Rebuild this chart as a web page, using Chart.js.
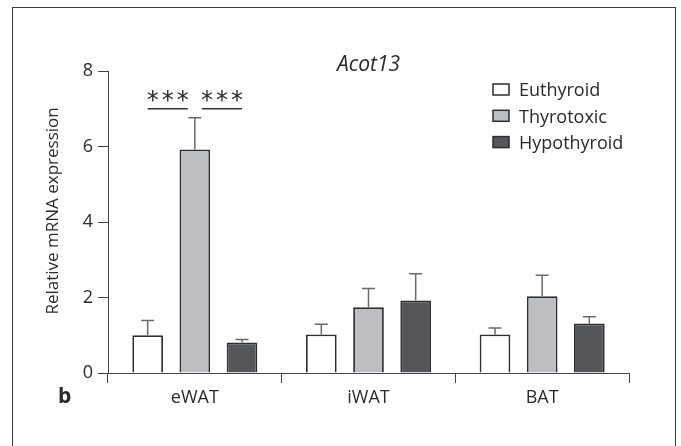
<!DOCTYPE html>
<html>
<head>
<meta charset="utf-8">
<script src="https://cdn.jsdelivr.net/npm/chart.js@4.4.0/dist/chart.umd.min.js"></script>
<style>
  html, body { margin: 0; padding: 0; background: #fff; }
  #wrap { position: relative; width: 681px; height: 446px; overflow: hidden; }
  #frame { position: absolute; left: 12px; top: 7px; width: 664px; height: 470px; border: 1.5px solid #3a3a3a; box-sizing: border-box; }
  canvas { position: absolute; left: 0; top: 0; }
</style>
</head>
<body>
<div id="wrap">
  <div id="frame"></div>
  <canvas id="chart" width="681" height="446"></canvas>
</div>
<script>
/* --------------- Data --------------------- */
const categories = ["eWAT", "iWAT", "BAT"];
const groups = ["Euthyroid", "Thyrotoxic", "Hypothyroid"];
const euthyroid = [1.0, 1.02, 1.02];
const thyrotoxic = [5.92, 1.74, 2.03];
const hypothyroid = [0.81, 1.92, 1.31];
// upper error (SEM), drawn above each bar
const euthyroidErr = [0.39, 0.27, 0.17];
const thyrotoxicErr = [0.84, 0.5, 0.56];
const hypothyroidErr = [0.08, 0.71, 0.18];
const yTicks = [0, 2, 4, 6, 8];
// [category index, from dataset, to dataset, label]
const significance = [
  [0, 0, 1, "***"],
  [0, 1, 2, "***"],
];
const sigLevel = 7;

/* --------------- Styles --------------------- */
const FONT = "'Open Sans', 'Noto Sans', sans-serif";
const fillColors = ["#ffffff", "#bdbec1", "#545659"];
const edgeColor = "#2e2e2e";
const axisColor = "#444444";
const textColor = "#2a2a2a";

/* --------------- Error bars, legend, labels --------------------- */
const extrasPlugin = {
  id: "extras",
  afterDatasetsDraw(chart) {
    const ctx = chart.ctx;
    const yScale = chart.scales.y;
    ctx.save();
    ctx.strokeStyle = "#6a6a6a";
    ctx.lineWidth = 1.5;
    chart.data.datasets.forEach((ds, di) => {
      const meta = chart.getDatasetMeta(di);
      meta.data.forEach((bar, i) => {
        const top = yScale.getPixelForValue(ds.data[i] + ds.errors[i]);
        ctx.beginPath();
        ctx.moveTo(bar.x, bar.y);
        ctx.lineTo(bar.x, top);
        ctx.moveTo(bar.x - 6.5, top);
        ctx.lineTo(bar.x + 6.5, top);
        ctx.stroke();
      });
    });
    ctx.restore();
  },
  afterDraw(chart) {
    const ctx = chart.ctx;
    const area = chart.chartArea;
    const yScale = chart.scales.y;
    ctx.save();

    // title
    ctx.fillStyle = textColor;
    ctx.font = "italic 21px " + FONT;
    ctx.textAlign = "center";
    ctx.textBaseline = "alphabetic";
    ctx.fillText("Acot13", (area.left + area.right) / 2, area.top);

    // significance brackets
    significance.forEach(([ci, a, b, label]) => {
      let x1 = chart.getDatasetMeta(a).data[ci].x;
      let x2 = chart.getDatasetMeta(b).data[ci].x;
      if (a === 1) x1 += 7;
      if (b === 1) x2 -= 7;
      const y = yScale.getPixelForValue(sigLevel);
      ctx.strokeStyle = "#333";
      ctx.lineWidth = 1.3;
      ctx.beginPath();
      ctx.moveTo(x1, y);
      ctx.lineTo(x2, y);
      ctx.stroke();
      ctx.font = "24px 'DejaVu Sans', sans-serif";
      const m = ctx.measureText("*");
      const cy = y - 12.5;
      const base = cy + (m.actualBoundingBoxAscent - m.actualBoundingBoxDescent) / 2;
      const mid = (x1 + x2) / 2;
      for (let k = 0; k < label.length; k++) {
        ctx.fillText(label[k], mid + (k - (label.length - 1) / 2) * 15, base);
      }
    });

    // legend
    ctx.font = "18px " + FONT;
    ctx.textAlign = "left";
    const lx = area.right - 136;
    chart.data.datasets.forEach((ds, di) => {
      const cy = area.top + 18.5 + di * 26.3;
      ctx.fillStyle = ds.backgroundColor;
      ctx.fillRect(lx, cy - 5.5, 16, 11);
      ctx.strokeStyle = edgeColor;
      ctx.lineWidth = 1.5;
      ctx.strokeRect(lx, cy - 5.5, 16, 11);
      ctx.fillStyle = textColor;
      ctx.fillText(ds.label, lx + 26, cy + 6.8);
    });

    // panel letter
    ctx.font = "bold 21px " + FONT;
    ctx.fillText("b", 58, 403);
    ctx.restore();
  },
};

/* --------------- Chart --------------------- */
const seriesValues = [euthyroid, thyrotoxic, hypothyroid];
const seriesErrors = [euthyroidErr, thyrotoxicErr, hypothyroidErr];

new Chart(document.getElementById("chart"), {
  type: "bar",
  plugins: [extrasPlugin],
  data: {
    labels: categories,
    datasets: groups.map((g, i) => ({
      label: g,
      data: seriesValues[i],
      errors: seriesErrors[i],
      backgroundColor: fillColors[i],
      borderColor: edgeColor,
      borderWidth: 1.8,
      categoryPercentage: 0.815,
      barPercentage: 0.65,
    })),
  },
  options: {
    responsive: false,
    animation: false,
    devicePixelRatio: 1,
    layout: { padding: { left: 20, right: 52, top: 71, bottom: 33 } },
    plugins: {
      legend: { display: false },
      tooltip: { enabled: false },
    },
    scales: {
      x: {
        grid: {
          drawOnChartArea: false,
          drawTicks: true,
          tickLength: 10,
          tickColor: axisColor,
          offset: true,
        },
        border: { display: true, color: axisColor, width: 1 },
        ticks: { color: textColor, padding: 4, font: { family: FONT, size: 18 } },
        afterFit: (s) => { s.height = 40; },
      },
      y: {
        min: 0,
        max: 8,
        afterBuildTicks: (s) => { s.ticks = yTicks.map((v) => ({ value: v })); },
        grid: {
          drawOnChartArea: false,
          drawTicks: true,
          tickLength: 10,
          tickColor: axisColor,
        },
        border: { display: true, color: axisColor, width: 1 },
        ticks: { color: textColor, padding: 5, font: { family: FONT, size: 18 } },
        title: {
          display: true,
          // leading spaces nudge the centred title up, as in the figure
          text: "\u00a0\u00a0\u00a0\u00a0\u00a0Relative mRNA expression",
          color: textColor,
          padding: { top: 23, bottom: 0 },
          font: { family: FONT, size: 17 },
        },
        afterFit: (s) => { s.width = 88; },
      },
    },
  },
});
</script>
</body>
</html>
